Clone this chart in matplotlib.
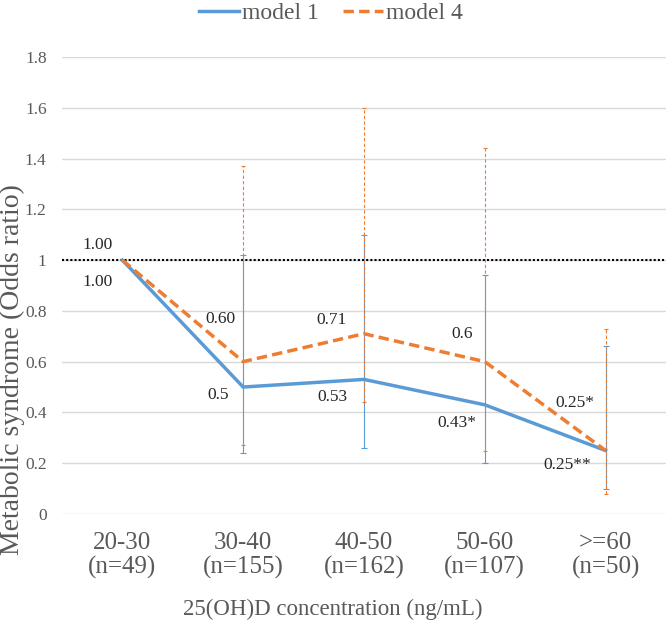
import numpy as np
import matplotlib
matplotlib.use('Agg')
import matplotlib.pyplot as plt
from matplotlib import rcParams
rcParams['font.family'] = 'serif'
rcParams['font.serif'] = ['Liberation Serif', 'DejaVu Serif']

categories = ['20-30\n(n=49)', '30-40\n(n=155)', '40-50\n(n=162)',
              '50-60\n(n=107)', '>=60\n(n=50)']
model1 = [1.00, 0.50, 0.53, 0.43, 0.25]
model1_lo = [1.00, 0.24, 0.26, 0.20, 0.10]
model1_hi = [1.00, 1.02, 1.10, 0.94, 0.66]
model4 = [1.00, 0.60, 0.71, 0.60, 0.25]
model4_lo = [1.00, 0.27, 0.44, 0.25, 0.08]
model4_hi = [1.00, 1.37, 1.60, 1.44, 0.73]
labels1 = ['1.00', '0.5', '0.53', '0.43*', '0.25**']
labels4 = ['1.00', '0.60', '0.71', '0.6', '0.25*']

blue = '#5B9BD5'
orange = '#ED7D31'
grey = '#595959'

fig = plt.figure(figsize=(6.66, 6.23), dpi=100)
ax = fig.add_axes([0.093, 0.175, 0.907, 0.7335])
x = np.arange(len(categories))

for y in np.arange(0, 1.81, 0.2):
    ax.axhline(y, color='#D9D9D9', lw=1, zorder=0)
ax.axhline(1.0, color='black', lw=1.5, ls=(0, (1, 1)), zorder=1)

# error bars (the reference group has none)
e1 = ax.errorbar(x[1:], model1[1:],
                 yerr=[np.subtract(model1[1:], model1_lo[1:]),
                       np.subtract(model1_hi[1:], model1[1:])],
                 fmt='none', ecolor=blue, elinewidth=0.8, capsize=2.5,
                 capthick=0.8, zorder=3)
e4 = ax.errorbar(x[1:], model4[1:],
                 yerr=[np.subtract(model4[1:], model4_lo[1:]),
                       np.subtract(model4_hi[1:], model4[1:])],
                 fmt='none', ecolor=orange, elinewidth=0.8, capsize=1.5,
                 capthick=0.8, zorder=3)
for c in e4[2]:
    c.set_linestyle((0, (3, 2)))

ax.plot(x, model1, color=blue, lw=2.5, label='model 1', zorder=4)
ax.plot(x, model4, color=orange, lw=2.5, ls=(0, (3, 1.5)), label='model 4',
        zorder=4)

# data labels
offs4 = [(-25, 15), (-23, 43), (-32, 14), (-23, 28), (-31, 48)]
offs1 = [(-25, -22), (-25, -8), (-32, -18), (-28, -18), (-38, -14)]
for i in range(len(x)):
    ax.annotate(labels4[i], (x[i], model4[i]), xytext=offs4[i],
                textcoords='offset pixels', ha='center', va='center',
                fontsize=12.5, color='#262626')
    ax.annotate(labels1[i], (x[i], model1[i]), xytext=offs1[i],
                textcoords='offset pixels', ha='center', va='center',
                fontsize=12.5, color='#262626')

ax.set_xlim(-0.5, 4.5)
ax.set_ylim(0, 1.8)
ax.set_yticks(np.arange(0, 1.81, 0.2))
ax.set_yticklabels(['0', '0.2', '0.4', '0.6', '0.8', '1', '1.2', '1.4',
                    '1.6', '1.8'])
ax.set_xticks(x)
ax.set_xticklabels(categories, linespacing=1.1)
ax.tick_params(axis='both', length=0, colors=grey)
ax.tick_params(axis='x', pad=13, labelsize=18)
ax.tick_params(axis='y', pad=11, labelsize=12.5)
for s in ax.spines.values():
    s.set_visible(False)

fig.text(12 / 666, 1 - 370 / 623, 'Metabolic syndrome (Odds ratio)',
         rotation=90, ha='center', va='center', fontsize=20, color=grey)
fig.text(0.5, 1 - 609 / 623, '25(OH)D concentration (ng/mL)',
         ha='center', va='center', fontsize=16.5, color=grey)

fig.legend(*ax.get_legend_handles_labels(), loc='center',
           bbox_to_anchor=(0.497, 1 - 13 / 623), ncol=2, frameon=False,
           fontsize=17, labelcolor=grey, handlelength=1.7,
           columnspacing=1.0, handletextpad=0.15)

fig.savefig('out.png', dpi=100)
